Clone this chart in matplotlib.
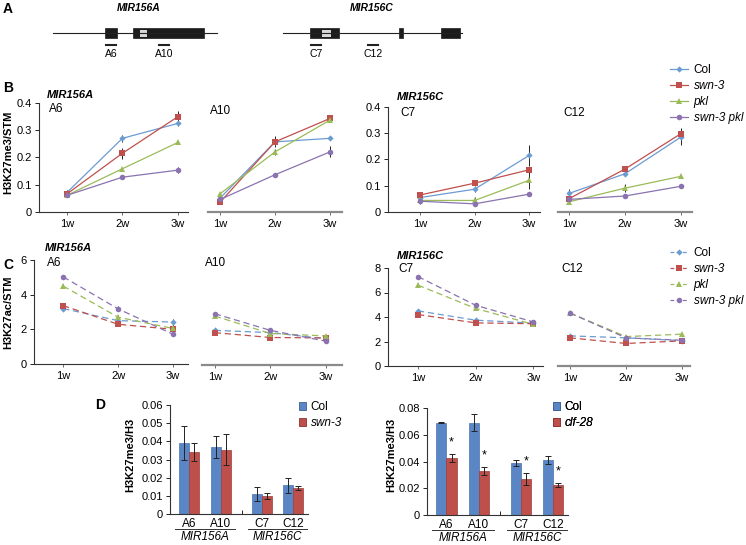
import matplotlib
matplotlib.use('Agg')
import matplotlib.pyplot as plt
from matplotlib.patches import Rectangle, Patch
from matplotlib.lines import Line2D

plt.rcParams['font.family'] = ['Liberation Sans', 'DejaVu Sans']

# ---- data ----
weeks = [1, 2, 3]
week_labels = ['1w', '2w', '3w']
genotypes = ['Col', 'swn-3', 'pkl', 'swn-3 pkl']

# B: H3K27me3/STM, rows = Col, swn-3, pkl, swn-3 pkl
me3_A6 = [[0.070, 0.270, 0.325], [0.065, 0.215, 0.350], [0.060, 0.158, 0.255], [0.060, 0.127, 0.153]]
me3_A6_err = [[0.010, 0.012, 0.010], [0.010, 0.020, 0.020], [0.005, 0.004, 0.003], [0.005, 0.003, 0.010]]
me3_A10 = [[0.050, 0.257, 0.270], [0.035, 0.257, 0.343], [0.066, 0.220, 0.337], [0.045, 0.136, 0.220]]
me3_A10_err = [[0.005, 0.020, 0.005], [0.005, 0.015, 0.005], [0.003, 0.010, 0.003], [0.003, 0.003, 0.020]]
me3_C7 = [[0.054, 0.086, 0.215], [0.064, 0.109, 0.160], [0.043, 0.043, 0.120], [0.040, 0.030, 0.067]]
me3_C7_err = [[0.008, 0.010, 0.040], [0.005, 0.010, 0.010], [0.005, 0.012, 0.035], [0.012, 0.004, 0.004]]
me3_C12 = [[0.070, 0.145, 0.285], [0.050, 0.163, 0.298], [0.038, 0.090, 0.135], [0.047, 0.060, 0.097]]
me3_C12_err = [[0.015, 0.005, 0.030], [0.005, 0.005, 0.020], [0.004, 0.015, 0.003], [0.003, 0.006, 0.008]]

# C: H3K27ac/STM
ac_A6 = [[3.20, 2.50, 2.42], [3.37, 2.29, 2.00], [4.50, 2.70, 2.05], [5.03, 3.18, 1.71]]
ac_A6_err = [[0.10, 0.10, 0.20], [0.10, 0.10, 0.15], [0.10, 0.15, 0.10], [0.12, 0.15, 0.05]]
ac_A10 = [[1.98, 1.85, 1.50], [1.85, 1.57, 1.55], [2.80, 1.80, 1.66], [2.93, 1.98, 1.36]]
ac_A10_err = [[0.06, 0.05, 0.06], [0.06, 0.05, 0.05], [0.06, 0.05, 0.05], [0.06, 0.08, 0.06]]
ac_C7 = [[4.50, 3.74, 3.50], [4.20, 3.52, 3.45], [6.60, 4.70, 3.40], [7.30, 4.96, 3.60]]
ac_C7_err = [[0.12, 0.10, 0.10], [0.12, 0.10, 0.10], [0.15, 0.12, 0.10], [0.15, 0.12, 0.10]]
ac_C12 = [[2.46, 2.30, 2.07], [2.30, 1.84, 2.05], [4.33, 2.40, 2.60], [4.33, 2.30, 2.10]]
ac_C12_err = [[0.08, 0.08, 0.06], [0.08, 0.06, 0.06], [0.10, 0.08, 0.06], [0.10, 0.08, 0.06]]

# D: H3K27me3/H3
sites = ['A6', 'A10', 'C7', 'C12']
site_pos = [0, 1, 2.3, 3.27]
swn_col = [0.039, 0.037, 0.011, 0.0158]
swn_col_err = [0.0095, 0.006, 0.004, 0.004]
swn_mut = [0.034, 0.0355, 0.010, 0.0142]
swn_mut_err = [0.005, 0.0085, 0.0015, 0.0012]
clf_col = [0.069, 0.069, 0.0388, 0.041]
clf_col_err = [0.0005, 0.0065, 0.0025, 0.003]
clf_mut = [0.0425, 0.033, 0.0268, 0.0225]
clf_mut_err = [0.003, 0.003, 0.0045, 0.0015]

colors = ['#6C9BD2', '#C0504D', '#9BBB59', '#8A73B0']
markers = ['D', 's', '^', 'o']
msizes = [3.2, 3.8, 4.2, 4.0]
bar_blue = '#5B86C5'
bar_red = '#BE504C'

W, H = 746, 545
fig = plt.figure(figsize=(W / 100, H / 100), dpi=100)


def px_axes(l, t, r, b):
    ax = fig.add_axes([l / W, 1 - b / H, (r - l) / W, (b - t) / H])
    ax.patch.set_alpha(0)
    return ax


def line_panel(ax, vals, errs, xlim, ylim, yticks, ylabels, show_y, dashed):
    for i in range(len(genotypes)):
        ax.errorbar(weeks, vals[i], yerr=errs[i], color=colors[i], marker=markers[i],
                    ms=msizes[i], mew=0, lw=0.9, ls=(0, (5, 3)) if dashed else '-',
                    ecolor='#222222', elinewidth=0.7, capsize=1.6, capthick=0.7)
    ax.set_xlim(*xlim)
    ax.set_ylim(*ylim)
    ax.set_xticks(weeks)
    ax.set_xticklabels(week_labels)
    for s in ['top', 'right']:
        ax.spines[s].set_visible(False)
    ax.tick_params(axis='x', length=2, width=0.6, pad=3, labelsize=8, color='#555555')
    if show_y:
        ax.set_yticks(yticks)
        ax.set_yticklabels(ylabels)
        ax.tick_params(axis='y', length=3, width=0.6, pad=2, labelsize=8)
        ax.spines['left'].set_color('#333333')
        ax.spines['left'].set_linewidth(0.8)
        ax.spines['bottom'].set_color('#333333')
        ax.spines['bottom'].set_linewidth(0.8)
    else:
        ax.spines['left'].set_visible(False)
        ax.set_yticks([])
        ax.spines['bottom'].set_color('#8a8a8a')
        ax.spines['bottom'].set_linewidth(1.6)


me3_ticks = [0, 0.1, 0.2, 0.3, 0.4]
me3_labels = ['0', '0.1', '0.2', '0.3', '0.4']

# ---- panel B ----
ax = px_axes(39, 103, 188, 211.7)
line_panel(ax, me3_A6, me3_A6_err, (0.5, 3.18), (0, 0.4), me3_ticks, me3_labels, True, False)
ax = px_axes(208, 103, 342, 211.7)
line_panel(ax, me3_A10, me3_A10_err, (0.78, 3.22), (0, 0.4), me3_ticks, me3_labels, False, False)
ax = px_axes(388, 107, 540, 211.7)
line_panel(ax, me3_C7, me3_C7_err, (0.41, 3.2), (0, 0.4), me3_ticks, me3_labels, True, False)
ax = px_axes(558, 107, 692, 211.7)
line_panel(ax, me3_C12, me3_C12_err, (0.8, 3.2), (0, 0.4), me3_ticks, me3_labels, False, False)

# ---- panel C ----
ax = px_axes(34, 260, 188, 364)
line_panel(ax, ac_A6, ac_A6_err, (0.47, 3.27), (0, 6), [0, 2, 4, 6], ['0', '2', '4', '6'], True, True)
ax = px_axes(202, 260, 342, 365)
line_panel(ax, ac_A10, ac_A10_err, (0.77, 3.29), (0, 6), [0, 2, 4, 6], ['0', '2', '4', '6'], False, True)
ax = px_axes(388, 268, 543, 366)
line_panel(ax, ac_C7, ac_C7_err, (0.48, 3.17), (0, 8), [0, 2, 4, 6, 8], ['0', '2', '4', '6', '8'], True, True)
ax = px_axes(558, 268, 690, 366)
line_panel(ax, ac_C12, ac_C12_err, (0.79, 3.14), (0, 8), [0, 2, 4, 6, 8], ['0', '2', '4', '6', '8'], False, True)


# ---- panel D ----
def bar_panel(ax, col, col_err, mut, mut_err, ymax, ystep, fmt, stars):
    bw = 0.31
    xl = [p - bw / 2 for p in site_pos]
    xr = [p + bw / 2 for p in site_pos]
    ek = dict(ecolor='#222222', elinewidth=0.7, capsize=2, capthick=0.7)
    ax.bar(xl, col, bw, yerr=col_err, color=bar_blue, edgecolor='#4A72AE', lw=0.5, error_kw=ek)
    ax.bar(xr, mut, bw, yerr=mut_err, color=bar_red, edgecolor='#9E3C38', lw=0.5, error_kw=ek)
    if stars:
        for x, v, e in zip(xr, mut, mut_err):
            ax.text(x, v + e + 0.004, '*', ha='center', va='bottom', fontsize=9)
    ax.set_xlim(site_pos[0] - 0.6, site_pos[-1] + 0.47)
    ax.set_ylim(0, ymax)
    n = int(round(ymax / ystep))
    ticks = [i * ystep for i in range(n + 1)]
    ax.set_yticks(ticks)
    ax.set_yticklabels(['0'] + [fmt.format(t) for t in ticks[1:]])
    ax.set_xticks(site_pos)
    ax.set_xticklabels(sites)
    ax.set_xticks([(site_pos[1] + site_pos[2]) / 2], minor=True)
    ax.tick_params(axis='x', which='major', length=0, pad=3, labelsize=8.5)
    ax.tick_params(axis='x', which='minor', length=3, width=0.6, direction='in')
    ax.tick_params(axis='y', length=3, width=0.6, pad=2, labelsize=8)
    for s in ['top', 'right']:
        ax.spines[s].set_visible(False)
    for s in ['left', 'bottom']:
        ax.spines[s].set_color('#333333')
        ax.spines[s].set_linewidth(0.8)
    tr = ax.get_xaxis_transform()
    ht = ax.get_window_extent().height
    y_line = -15 / ht
    y_txt = -23 / ht
    for a, b, name in [(0, 1, 'MIR156A'), (2, 3, 'MIR156C')]:
        ax.plot([site_pos[a] - 0.45, site_pos[b] + 0.45], [y_line, y_line], color='#333333',
                lw=0.7, transform=tr, clip_on=False)
        ax.text((site_pos[a] + site_pos[b]) / 2, y_txt, name, transform=tr, ha='center',
                va='center', fontsize=8.5, style='italic')


ax = px_axes(170, 405, 308, 514)
bar_panel(ax, swn_col, swn_col_err, swn_mut, swn_mut_err, 0.06, 0.01, '{:.2f}', False)
ax = px_axes(427, 408, 568, 515)
bar_panel(ax, clf_col, clf_col_err, clf_mut, clf_mut_err, 0.08, 0.02, '{:.2f}', True)

# ---- background layer: gene models, labels, legends ----
bg = fig.add_axes([0, 0, 1, 1])
bg.set_xlim(0, W)
bg.set_ylim(H, 0)
bg.axis('off')


def gene(x0, x1, y, exons, greys, probes):
    bg.plot([x0, x1], [y, y], color='#222222', lw=0.8)
    for a, b in exons:
        bg.add_patch(Rectangle((a, y - 5), b - a, 10, fc='#1c1c1c', ec='#1c1c1c', lw=0.5))
    for a, b in greys:
        bg.add_patch(Rectangle((a, y - 3.5), b - a, 7, fc='#d8d8d8', ec='none'))
    for a, b, name in probes:
        bg.plot([a, b], [y + 12, y + 12], color='#222222', lw=1.5)
        bg.text((a + b) / 2, y + 21, name, ha='center', va='center', fontsize=7.5)


gene(53, 217, 33, [(105, 117), (133, 204)], [(140, 147)],
     [(106, 116, 'A6'), (159, 169, 'A10')])
gene(283, 462, 33, [(310, 339), (399, 403), (441, 460)], [(322, 331)],
     [(311, 321, 'C7'), (368, 378, 'C12')])
bg.text(139, 8, 'MIR156A', ha='center', va='center', fontsize=7.5, weight='bold', style='italic')
bg.text(372, 8, 'MIR156C', ha='center', va='center', fontsize=7.5, weight='bold', style='italic')

for lab, x, y in [('A', 8, 9), ('B', 8, 88), ('C', 8, 265), ('D', 100, 405)]:
    bg.text(x, y, lab, ha='center', va='center', fontsize=10, weight='bold')

bg.text(8, 152, 'H3K27me3/STM', rotation=90, ha='center', va='center', fontsize=8, weight='bold')
bg.text(8, 312, 'H3K27ac/STM', rotation=90, ha='center', va='center', fontsize=8, weight='bold')
bg.text(130, 455, 'H3K27me3/H3', rotation=90, ha='center', va='center', fontsize=8, weight='bold')
bg.text(391, 455, 'H3K27me3/H3', rotation=90, ha='center', va='center', fontsize=8, weight='bold')

for name, x, y in [('MIR156A', 47, 95), ('MIR156C', 397, 97), ('MIR156A', 45, 248), ('MIR156C', 397, 256)]:
    bg.text(x, y, name, ha='left', va='center', fontsize=8, weight='bold', style='italic')
for name, x, y in [('A6', 49, 109), ('A10', 210, 111), ('C7', 400, 113), ('C12', 563, 113),
                   ('A6', 47, 263), ('A10', 205, 263), ('C7', 398, 269), ('C12', 561, 269)]:
    bg.text(x, y, name, ha='left', va='center', fontsize=8.5)


def italicize(leg):
    for t in leg.get_texts():
        if t.get_text() != 'Col':
            t.set_style('italic')


h_b = [Line2D([], [], color=c, marker=m, ms=s, mew=0, lw=0.9) for c, m, s in zip(colors, markers, msizes)]
leg = bg.legend(h_b, genotypes, loc='upper left', bbox_to_anchor=(670, 64), bbox_transform=bg.transData,
                frameon=False, fontsize=8.5, handlelength=1.5, handletextpad=0.5, labelspacing=0.35,
                borderpad=0, borderaxespad=0)
italicize(leg)
bg.add_artist(leg)

h_c = [Line2D([], [], color=c, marker=m, ms=s, mew=0, lw=0.9, ls=(0, (3, 2)))
       for c, m, s in zip(colors, markers, msizes)]
leg = bg.legend(h_c, genotypes, loc='upper left', bbox_to_anchor=(670, 247), bbox_transform=bg.transData,
                frameon=False, fontsize=8.5, handlelength=1.5, handletextpad=0.5, labelspacing=0.35,
                borderpad=0, borderaxespad=0)
italicize(leg)
bg.add_artist(leg)

for x, labels in [(299, ['Col', 'swn-3']), (553, ['Col', 'clf-28'])]:
    hs = [Patch(fc=bar_blue, ec='#3d5f93', lw=0.6), Patch(fc=bar_red, ec='#8a3431', lw=0.6)]
    leg = bg.legend(hs, labels, loc='upper left', bbox_to_anchor=(x, 401), bbox_transform=bg.transData,
                    frameon=False, fontsize=8.5, handlelength=0.6, handleheight=0.6, handletextpad=0.4,
                    labelspacing=0.35, borderpad=0, borderaxespad=0)
    italicize(leg)
    bg.add_artist(leg)

fig.savefig('out.png', dpi=100)
